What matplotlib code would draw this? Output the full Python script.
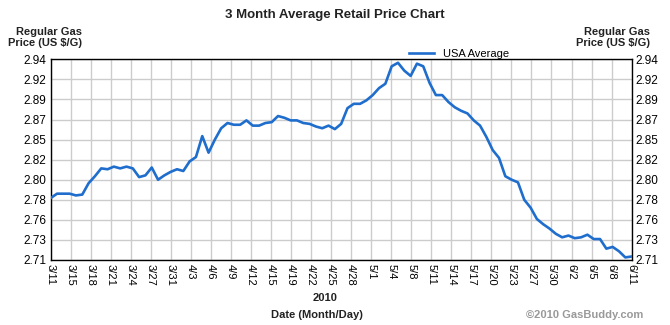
import numpy as np
import matplotlib
matplotlib.use('Agg')
import matplotlib.pyplot as plt

plt.rcParams['font.family'] = ['Liberation Sans', 'DejaVu Sans']

# daily regular gas price, 3/11 .. 6/11 2010 (day 0 .. 92)
prices = [2.781, 2.786, 2.786, 2.786, 2.784, 2.785, 2.798, 2.806, 2.815, 2.814,
          2.817, 2.815, 2.817, 2.815, 2.805, 2.807, 2.816, 2.802, 2.807, 2.811,
          2.814, 2.812, 2.823, 2.828, 2.852, 2.833, 2.848, 2.861, 2.867, 2.865,
          2.865, 2.870, 2.864, 2.864, 2.867, 2.868, 2.875, 2.873, 2.870, 2.870,
          2.867, 2.866, 2.863, 2.861, 2.864, 2.860, 2.866, 2.884, 2.889, 2.889,
          2.893, 2.899, 2.907, 2.912, 2.932, 2.936, 2.927, 2.921, 2.935, 2.932,
          2.913, 2.899, 2.899, 2.891, 2.885, 2.881, 2.878, 2.870, 2.864, 2.851,
          2.836, 2.827, 2.806, 2.802, 2.799, 2.779, 2.770, 2.757, 2.751, 2.746,
          2.740, 2.736, 2.738, 2.735, 2.736, 2.739, 2.734, 2.734, 2.723, 2.725,
          2.720, 2.713, 2.714]
days = np.arange(len(prices))

date_labels = ['3/11', '3/15', '3/18', '3/21', '3/24', '3/27', '3/31', '4/3',
               '4/6', '4/9', '4/12', '4/15', '4/19', '4/22', '4/25', '4/28',
               '5/1', '5/4', '5/8', '5/11', '5/14', '5/17', '5/20', '5/23',
               '5/27', '5/30', '6/2', '6/5', '6/8', '6/11']
y_labels = ['2.71', '2.73', '2.76', '2.78', '2.80', '2.82', '2.85', '2.87',
            '2.89', '2.92', '2.94']

fig = plt.figure(figsize=(6.7, 3.25), dpi=100)
ax = fig.add_axes([0.0757, 0.2, 0.867, 0.6175])

blue = '#1f6dcc'
ax.plot(days, prices, color=blue, lw=1.9, label='USA Average', zorder=3)

ax.set_xlim(0, 92)
ax.set_ylim(2.71, 2.94)
ax.set_xticks(np.linspace(0, 92, len(date_labels)))
ax.set_xticklabels(date_labels, rotation=-90, fontsize=8)
yt = np.linspace(2.71, 2.94, len(y_labels))
ax.set_yticks(yt)
ax.set_yticklabels(y_labels, fontsize=8.5)
ax.tick_params(length=0, pad=3)
ax.tick_params(axis='y', labelright=True)
ax.grid(True, color='#cccccc', lw=1)
ax.set_axisbelow(True)
for s in ax.spines.values():
    s.set_color('black')
    s.set_linewidth(1)

fig.text(0.5, 0.955, '3 Month Average Retail Price Chart', ha='center',
         va='center', fontsize=9.5, fontweight='bold', color='#222222')
fig.text(0.123, 0.885, 'Regular Gas\nPrice (US $/G)', ha='right', va='center',
         fontsize=8, fontweight='bold', color='#222222', linespacing=1.1)
fig.text(0.97, 0.885, 'Regular Gas\nPrice (US $/G)', ha='right', va='center',
         fontsize=8, fontweight='bold', color='#222222', linespacing=1.1)
fig.text(0.485, 0.083, '2010', ha='center', va='center', fontsize=8,
         fontweight='bold', color='#222222')
fig.text(0.473, 0.03, 'Date (Month/Day)', ha='center', va='center', fontsize=8,
         fontweight='bold', color='#222222')
fig.text(0.96, 0.03, '\u00a92010 GasBuddy.com', ha='right', va='center',
         fontsize=8, fontweight='bold', color='#999999')

ax.legend(loc='lower center', bbox_to_anchor=(0.703, 0.99), frameon=False,
          fontsize=8, handlelength=2.2, borderaxespad=0, borderpad=0.2)

fig.savefig('out.png', dpi=100)
